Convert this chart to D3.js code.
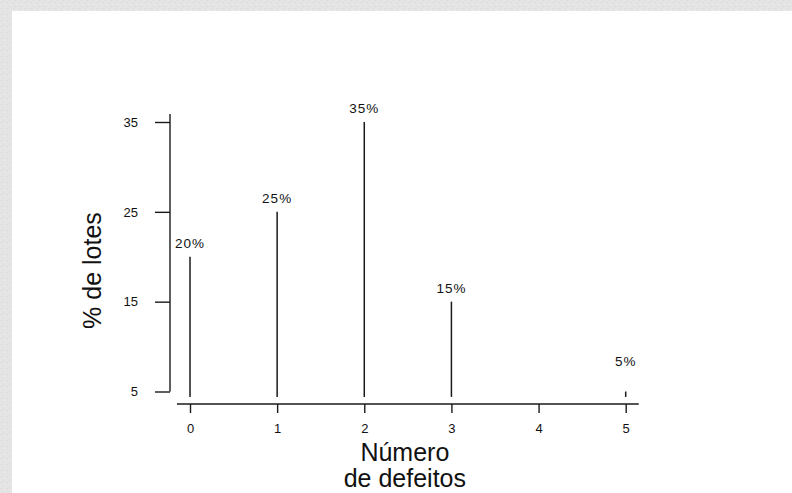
<!DOCTYPE html>
<html>
<head>
<meta charset="utf-8">
<script src="https://cdn.jsdelivr.net/npm/d3@7"></script>
<style>
  html, body { margin: 0; padding: 0; background: #e6e6e6; }
  svg { display: block; }
  text { font-family: "Liberation Sans", Arial, sans-serif; }
</style>
</head>
<body>
<svg id="chart" width="792" height="493"></svg>
<script>
// ---- data ----
const categories = [0, 1, 2, 3, 4, 5];
const barCategories = [0, 1, 2, 3, 5];
const values = [20, 25, 35, 15, 5];
const valueLabels = ["20%", "25%", "35%", "15%", "5%"];
const yTicks = [5, 15, 25, 35];
const xTitleLines = ["Número", "de defeitos"];
const yTitle = "% de lotes";

// ---- layout ----
const W = 792, H = 493;
const svg = d3.select("#chart");

// textured-looking grey frame + white panel
const defs = svg.append("defs");
const pat = defs.append("pattern").attr("id", "tex").attr("width", 6).attr("height", 6)
  .attr("patternUnits", "userSpaceOnUse");
pat.append("rect").attr("width", 6).attr("height", 6).attr("fill", "#e4e4e4");
pat.append("rect").attr("x", 1).attr("y", 2).attr("width", 1).attr("height", 1).attr("fill", "#d6d6d6");
pat.append("rect").attr("x", 4).attr("y", 4).attr("width", 1).attr("height", 1).attr("fill", "#ededed");
pat.append("rect").attr("x", 3).attr("y", 0).attr("width", 1).attr("height", 1).attr("fill", "#dadada");
svg.append("rect").attr("width", W).attr("height", H).attr("fill", "url(#tex)");
svg.append("rect").attr("x", 12).attr("y", 11).attr("width", W - 12).attr("height", H - 11).attr("fill", "#fff");

const x = d3.scaleLinear().domain([0, 5]).range([190, 625.7]);
const y = d3.scaleLinear().domain([5, 35]).range([391.5, 122]);
const yFloor = 4.4;
const yTop = 35.9;
const ink = "#1a1a1a";
const fontFam = "'Liberation Sans', Arial, sans-serif";

// ---- y axis ----
const yAxisX = 170;
const gy = svg.append("g").attr("transform", `translate(${yAxisX},0)`)
  .call(d3.axisLeft(y).tickValues(yTicks).tickFormat(d3.format("d"))
    .tickSize(15).tickPadding(17).tickSizeOuter(0));
gy.select(".domain").remove();
gy.append("line").attr("x1", 0).attr("x2", 0).attr("y1", y(yTop)).attr("y2", y(5))
  .attr("stroke", ink).attr("stroke-width", 1.4);
gy.selectAll(".tick line").attr("stroke", ink).attr("stroke-width", 1.4);
gy.selectAll(".tick text").attr("fill", "#111").attr("font-size", 13)
  .attr("font-family", fontFam);

// ---- x axis ----
const xAxisY = 404;
const gx = svg.append("g").attr("transform", `translate(0,${xAxisY})`)
  .call(d3.axisBottom(x).tickValues(categories).tickFormat(d3.format("d"))
    .tickSize(9).tickPadding(11).tickSizeOuter(0));
gx.select(".domain").remove();
gx.append("line").attr("x1", x(-0.15)).attr("x2", x(5.15)).attr("y1", 0).attr("y2", 0)
  .attr("stroke", ink).attr("stroke-width", 1.4);
gx.selectAll(".tick line").attr("stroke", ink).attr("stroke-width", 1.4);
gx.selectAll(".tick text").attr("fill", "#111").attr("font-size", 13)
  .attr("font-family", fontFam);

// ---- bars (spikes) ----
svg.append("g").selectAll("line").data(values).join("line")
  .attr("x1", (d, i) => x(barCategories[i]))
  .attr("x2", (d, i) => x(barCategories[i]))
  .attr("y1", d => y(d))
  .attr("y2", y(yFloor))
  .attr("stroke", ink).attr("stroke-width", 1.5);

// ---- value labels ----
const minLabelV = 6.8;
svg.append("g").selectAll("text").data(values).join("text")
  .attr("x", (d, i) => x(barCategories[i]))
  .attr("y", d => Math.min(y(d), y(minLabelV)) - 9)
  .attr("text-anchor", "middle")
  .attr("font-size", 13.5)
  .attr("letter-spacing", 1)
  .attr("fill", "#111")
  .text((d, i) => valueLabels[i]);

// ---- titles ----
svg.append("text")
  .attr("transform", `translate(101,${270.5}) rotate(-90)`)
  .attr("text-anchor", "middle")
  .attr("font-size", 25)
  .attr("fill", "#111")
  .text(yTitle);

svg.append("g").selectAll("text").data(xTitleLines).join("text")
  .attr("x", (x(0) + x(5)) / 2 - 3)
  .attr("y", (d, i) => 461 + i * 26)
  .attr("text-anchor", "middle")
  .attr("font-size", 25)
  .attr("fill", "#111")
  .text(d => d);
</script>
</body>
</html>
